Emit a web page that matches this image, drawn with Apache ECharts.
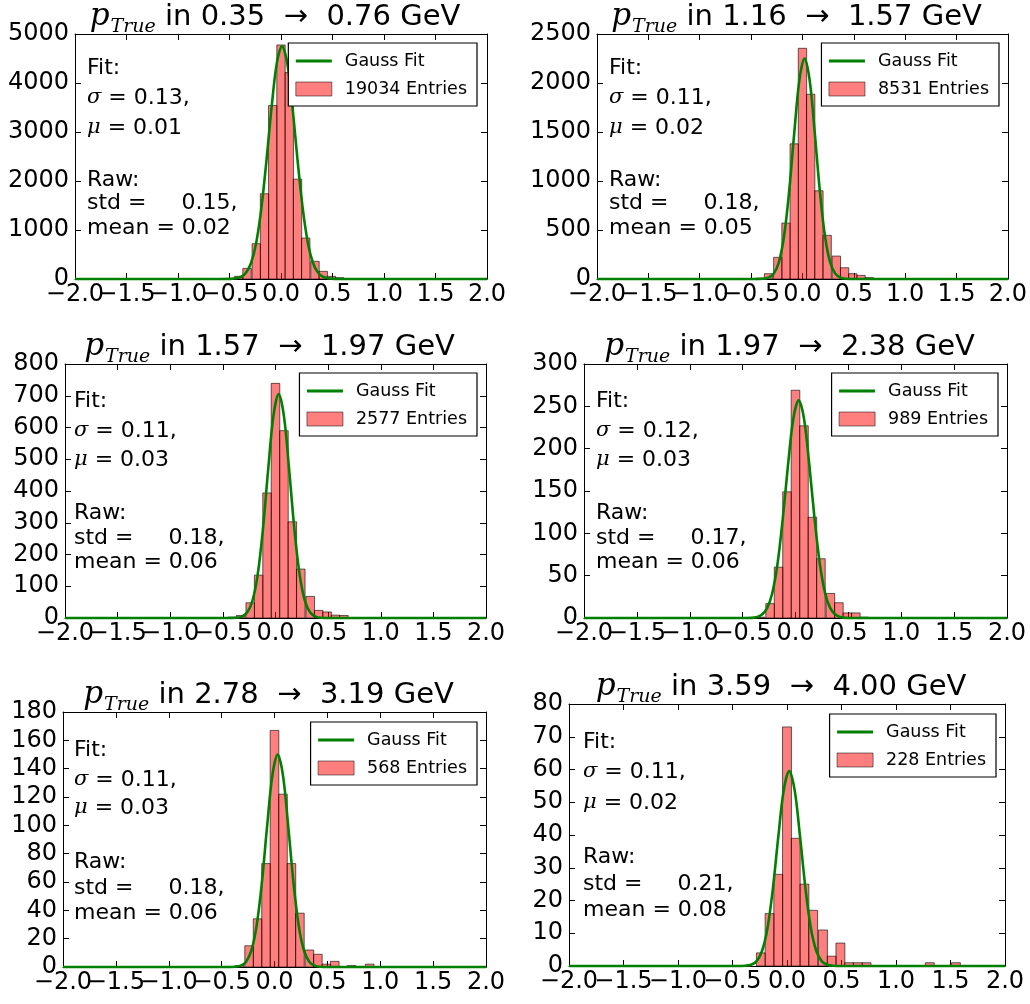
<!DOCTYPE html>
<html><head><meta charset="utf-8">
<script src="https://cdn.jsdelivr.net/npm/echarts@6/dist/echarts.min.js"></script>
<style>html,body{margin:0;padding:0;background:#fff}#c{width:1030px;height:1004px}</style>
</head><body><div id="c"></div>
<script>
// ---------------- data ----------------
const binCenters = [-0.49,-0.41,-0.33,-0.24,-0.16,-0.08,0.00,0.08,0.16,0.24,0.33,0.41,0.49,0.57,0.65,0.73,0.82,0.90,0.98,1.06,1.14,1.22,1.31,1.39,1.47,1.55,1.63];
const binWidth = 0.0816;
const xTicks = [-2.0,-1.5,-1.0,-0.5,0.0,0.5,1.0,1.5,2.0];

const p1Counts = [0,55,217,720,1740,3540,4776,4212,2038,836,360,156,54,27,0,0,0,0,0,0,0,0,0,0,0,0,0];
const p2Counts = [0,10,54,221,571,1379,2354,1885,900,445,234,115,54,37,14,0,0,0,0,0,0,0,0,0,0,0,0];
const p3Counts = [0,3,8,48,135,394,739,590,303,154,68,24,19,9,8,0,0,0,0,0,0,0,0,0,0,0,0];
const p4Counts = [0,0,1,17,60,149,269,227,119,70,29,18,6,6,1,0,0,0,0,0,0,0,0,0,0,0,0];
const p5Counts = [0,0,1,15,34,73,167,122,73,38,12,9,2,4,0,1,0,2,0,0,0,0,0,0,0,0,0];
const p6Counts = [0,0,0,4,16,28,73,39,25,17,11,3,7,1,1,1,0,0,0,0,0,0,1,0,0,1,0];

const p1FitX = [-2.0,-0.59,-0.49,-0.39,-0.34,-0.29,-0.24,-0.19,-0.14,-0.09,-0.04,0.01,0.06,0.11,0.16,0.21,0.26,0.31,0.36,0.41,0.51,0.61,2.0];
const p1FitY = [0,0,3,42,127,331,747,1455,2441,3533,4411,4750,4411,3533,2441,1455,747,331,127,42,3,0,0];
const p2FitX = [-2.0,-0.58,-0.48,-0.38,-0.33,-0.28,-0.23,-0.18,-0.13,-0.08,-0.03,0.02,0.07,0.12,0.17,0.22,0.27,0.32,0.37,0.42,0.52,0.62,2.0];
const p2FitY = [0,0,0,3,14,55,170,431,888,1488,2029,2250,2029,1488,888,431,170,55,14,3,0,0,0];
const p3FitX = [-2.0,-0.57,-0.47,-0.37,-0.32,-0.27,-0.22,-0.17,-0.12,-0.07,-0.02,0.03,0.08,0.13,0.18,0.23,0.28,0.33,0.38,0.43,0.53,0.63,2.0];
const p3FitY = [0,0,0,0.9,4.5,17,53,135,278,466,636,705,636,466,278,135,53,17,4.5,0.9,0,0,0];
const p4FitX = [-2.0,-0.57,-0.47,-0.37,-0.32,-0.27,-0.22,-0.17,-0.12,-0.07,-0.02,0.03,0.08,0.13,0.18,0.23,0.28,0.33,0.38,0.43,0.53,0.63,2.0];
const p4FitY = [0,0,0,1.0,3.7,11.3,29.3,64.1,117.7,181.6,235.6,257,235.6,181.6,117.7,64.1,29.3,11.3,3.7,1.0,0,0,0];
const p5FitX = [-2.0,-0.57,-0.47,-0.37,-0.32,-0.27,-0.22,-0.17,-0.12,-0.07,-0.02,0.03,0.08,0.13,0.18,0.23,0.28,0.33,0.38,0.43,0.53,0.63,2.0];
const p5FitY = [0,0,0,0.2,1.0,3.6,11.3,28.7,59.2,99.2,135.3,150,135.3,99.2,59.2,28.7,11.3,3.6,1.0,0.2,0,0,0];
const p6FitX = [-2.0,-0.58,-0.48,-0.38,-0.33,-0.28,-0.23,-0.18,-0.13,-0.08,-0.03,0.02,0.07,0.12,0.17,0.22,0.27,0.32,0.37,0.42,0.52,0.62,2.0];
const p6FitY = [0,0,0,0.1,0.4,1.4,4.5,11.4,23.5,39.4,53.7,59.5,53.7,39.4,23.5,11.4,4.5,1.4,0.4,0.1,0,0,0];

const pLow  = ['0.35','1.16','1.57','1.97','2.78','3.59'];
const pHigh = ['0.76','1.57','1.97','2.38','3.19','4.00'];
const entries = [19034, 8531, 2577, 989, 568, 228];
const fitSigma = ['0.13','0.11','0.11','0.12','0.11','0.11'];
const fitMu    = ['0.01','0.02','0.03','0.03','0.03','0.02'];
const rawStd   = ['0.15','0.18','0.18','0.17','0.18','0.21'];
const rawMean  = ['0.02','0.05','0.06','0.06','0.06','0.08'];
const yMax  = [5000, 2500, 800, 300, 180, 80];
const yStep = [1000, 500, 100, 50, 20, 10];

const counts = [p1Counts,p2Counts,p3Counts,p4Counts,p5Counts,p6Counts];
const fitX = [p1FitX,p2FitX,p3FitX,p4FitX,p5FitX,p6FitX];
const fitY = [p1FitY,p2FitY,p3FitY,p4FitY,p5FitY,p6FitY];

// ---------------- layout ----------------
const layout = [
  {l:75,  t:34,  w:412, h:245, legR:553, legT:43,  tx:87,  ty:[68,98,128,180,203,228]},
  {l:597, t:34,  w:411, h:245, legR:31,  legT:43,  tx:609, ty:[68,98,128,180,203,228]},
  {l:65,  t:364, w:421, h:254, legR:553, legT:373, tx:74,  ty:[401,431,460,513,538,562]},
  {l:584, t:364, w:423, h:254, legR:32,  legT:373, tx:596, ty:[401,431,460,513,538,562]},
  {l:63,  t:712, w:423, h:255, legR:553, legT:722, tx:74,  ty:[750,780,808,862,888,913]},
  {l:569, t:704, w:436, h:262, legR:34,  legT:714, tx:583, ty:[742,772,803,857,884,910]}
];

const FONT = "'DejaVu Sans', sans-serif";
const SERIF = "'DejaVu Serif', serif";
const fmtX = v => (v < 0 ? '\u2212' : '') + Math.abs(v).toFixed(1);
const isWhole = v => Math.abs(Math.round(v) - v) < 1e-6;

const grid = [], xAxis = [], yAxis = [], series = [], legend = [], title = [], graphic = [];

layout.forEach((L, i) => {
  grid.push({left: L.l, top: L.t, width: L.w, height: L.h, containLabel: false});
  const tick = {show: true, inside: true, length: 6, lineStyle: {color: '#000', width: 1}};
  const line = {show: true, onZero: false, lineStyle: {color: '#000', width: 1}};
  const xMin = xTicks[0], xMax = xTicks[xTicks.length-1];
  const xLabel = {show: true, fontFamily: FONT, fontSize: 24, color: '#000', margin: 4,
    showMinLabel: true, showMaxLabel: true, hideOverlap: false};
  // main bottom axis: line, ticks, labels at whole numbers
  xAxis.push({type: 'value', gridIndex: i, position: 'bottom', min: xMin, max: xMax, interval: 0.5,
    axisLine: line, axisTick: tick, splitLine: {show: false},
    axisLabel: Object.assign({}, xLabel, {formatter: v => isWhole(v) ? fmtX(v) : ''})});
  // top axis: frame + ticks only
  xAxis.push({type: 'value', gridIndex: i, position: 'top', min: xMin, max: xMax, interval: 0.5,
    axisLine: line, axisTick: tick, splitLine: {show: false}, axisLabel: {show: false}});
  // second bottom axis: labels at half values (matplotlib draws overlapping labels)
  xAxis.push({type: 'value', gridIndex: i, position: 'bottom', offset: 0, min: xMin, max: xMax, interval: 0.5,
    axisLine: {show: false}, axisTick: {show: false}, splitLine: {show: false},
    axisLabel: Object.assign({}, xLabel, {formatter: v => isWhole(v) ? '' : fmtX(v)})});
  yAxis.push({type: 'value', gridIndex: i, position: 'left', min: 0, max: yMax[i], interval: yStep[i],
    axisLine: line, axisTick: tick, splitLine: {show: false},
    axisLabel: {show: true, formatter: v => String(v), fontFamily: FONT, fontSize: 24, color: '#000', margin: 6,
      showMinLabel: true, showMaxLabel: true, hideOverlap: false}});
  yAxis.push({type: 'value', gridIndex: i, position: 'right', min: 0, max: yMax[i], interval: yStep[i],
    axisLine: line, axisTick: tick, splitLine: {show: false}, axisLabel: {show: false}});

  const histName = entries[i] + ' Entries';
  const histData = [];
  binCenters.forEach((c, k) => { if (counts[i][k] > 0) histData.push([c, counts[i][k]]); });
  series.push({
    type: 'custom', name: histName, xAxisIndex: 3*i, yAxisIndex: 2*i, data: histData, z: 2,
    itemStyle: {color: 'rgba(255,0,0,0.5)'},
    renderItem: (params, api) => {
      const x = api.value(0), y = api.value(1);
      const a = api.coord([x - binWidth/2, y]);
      const b = api.coord([x + binWidth/2, 0]);
      return {type: 'rect', shape: {x: a[0], y: a[1], width: b[0]-a[0], height: b[1]-a[1]},
        style: {fill: 'rgba(255,0,0,0.5)', stroke: 'rgba(0,0,0,0.6)', lineWidth: 1}};
    }
  });
  series.push({
    type: 'line', name: 'Gauss Fit', xAxisIndex: 3*i, yAxisIndex: 2*i, z: 3,
    data: fitX[i].map((x, k) => [x, fitY[i][k]]),
    symbol: 'none', smooth: 0.35, clip: false,
    lineStyle: {color: '#008000', width: 2.6}, itemStyle: {color: '#008000'}
  });

  legend.push({
    orient: 'vertical', right: L.legR, top: L.legT,
    borderColor: '#000', borderWidth: 1.2, borderRadius: 0, backgroundColor: '#fff',
    padding: [9, 10, 8, 6], itemGap: 10, itemWidth: 36, itemHeight: 14,
    textStyle: {fontFamily: FONT, fontSize: 17.5, color: '#000', padding: [0, 0, 0, 8]},
    selectedMode: false,
    data: [
      {name: 'Gauss Fit', itemStyle: {opacity: 0}, lineStyle: {color: '#008000', width: 3}},
      {name: histName, icon: 'rect', itemStyle: {color: 'rgba(255,0,0,0.5)', borderColor: 'rgba(0,0,0,0.5)', borderWidth: 1}}
    ]
  });

  title.push({
    text: '{p|p}{s|True}{t| in ' + pLow[i] + '  \u2192  ' + pHigh[i] + ' GeV}',
    left: L.l + L.w/2 - 6, top: L.t - 33, textAlign: 'center', padding: 0,
    textStyle: {fontWeight: 'normal', rich: {
      p: {fontFamily: SERIF, fontStyle: 'italic', fontWeight: 'normal', fontSize: 31, color: '#000', verticalAlign: 'bottom', padding: [0,1,5,0]},
      s: {fontFamily: SERIF, fontStyle: 'italic', fontWeight: 'normal', fontSize: 19, color: '#000', verticalAlign: 'bottom', padding: [0,0,0,0]},
      t: {fontFamily: FONT, fontWeight: 'normal', fontSize: 29, color: '#000', verticalAlign: 'bottom', padding: [0,0,5,0]}
    }}
  });

  const richMath = {m: {fontFamily: SERIF, fontStyle: 'italic', fontSize: 21, fill: '#000'}};
  const lines = [
    'Fit:',
    '{m|\u03c3} = ' + fitSigma[i] + ',',
    '{m|\u03bc} = ' + fitMu[i],
    'Raw:',
    'std =     ' + rawStd[i] + ',',
    'mean = ' + rawMean[i]
  ];
  lines.forEach((s, k) => {
    graphic.push({type: 'text', x: L.tx, y: L.ty[k], z: 10, silent: true,
      style: {text: s, fontFamily: FONT, fontSize: 22, fill: '#000', verticalAlign: 'middle', align: 'left', rich: richMath}});
  });
});

const chart = echarts.init(document.getElementById('c'), null, {renderer: 'canvas'});
chart.setOption({animation: false, backgroundColor: '#fff', grid, xAxis, yAxis, series, legend, title, graphic});
</script></body></html>
